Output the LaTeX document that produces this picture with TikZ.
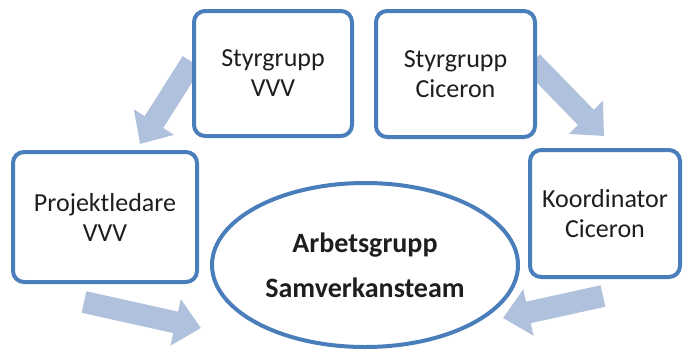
\documentclass[tikz,border=0pt]{standalone}
\usepackage{fontspec}
\setmainfont{Carlito}
\usetikzlibrary{arrows.meta,shapes.geometric}
\definecolor{boxblue}{RGB}{74,126,187}
\definecolor{arrowblue}{RGB}{176,193,221}
\definecolor{txt}{RGB}{30,30,30}
\tikzset{
  orgbox/.style={draw=boxblue, line width=4pt, rounded corners=11pt, fill=white,
    align=center, text=txt, font=\fontsize{26}{30}\selectfont, inner sep=0pt},
  teamellipse/.style={ellipse, draw=boxblue, line width=4pt, fill=white, align=center,
    text=txt, font=\fontsize{28}{45}\selectfont\bfseries, inner sep=0pt,
    minimum width=306pt, minimum height=164pt},
  blockarrow/.style={draw=arrowblue, line width=22pt,
    -{Triangle[width=46pt,length=26pt]}}
}
\begin{document}
\begin{tikzpicture}[x=1pt,y=-1pt]
\useasboundingbox (0,0) rectangle (683,349);
% arrow coordinates
\coordinate (a1s) at (192,62);
\coordinate (a1e) at (140,144);
\coordinate (a2s) at (532,62);
\coordinate (a2e) at (604,136);
\coordinate (a3s) at (84,302);
\coordinate (a3e) at (201,328);
\coordinate (a4s) at (603,296);
\coordinate (a4e) at (503,318);
\draw[blockarrow] (a1s) -- (a1e);
\draw[blockarrow] (a2s) -- (a2e);
\draw[blockarrow] (a3s) -- (a3e);
\draw[blockarrow] (a4s) -- (a4e);
% boxes
\node[orgbox, minimum width=158pt, minimum height=125pt] (vvv) at (273,73.5) {Styrgrupp\\VVV};
\node[orgbox, minimum width=159pt, minimum height=126pt] (cic) at (455.5,74) {Styrgrupp\\Ciceron};
\node[orgbox, minimum width=184pt, minimum height=130pt] (proj) at (105,217) {Projektledare\\VVV};
\node[orgbox, minimum width=150pt, minimum height=127pt] (koord) at (605,213.5) {Koordinator\\Ciceron};
\node[teamellipse] (team) at (365,265) {Arbetsgrupp\\Samverkansteam};
\end{tikzpicture}
\end{document}
